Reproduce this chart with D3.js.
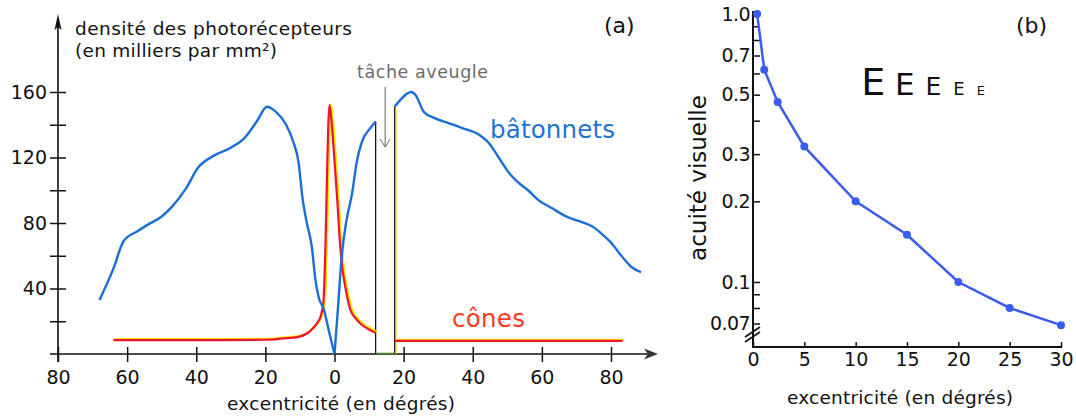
<!DOCTYPE html>
<html>
<head>
<meta charset="utf-8">
<script src="https://cdn.jsdelivr.net/npm/d3@7"></script>
<style>
body { margin: 0; background: #fff; }
svg { display: block; font-family: "DejaVu Sans", sans-serif; }
</style>
</head>
<body>
<div id="chart"></div>
<script>
// (a) photoreceptor density (thousands per mm²) vs eccentricity, negative = left half
const rodsLeft = [[-68,33],[-64,52],[-61,69],[-57,75],[-54,79],[-50,84],[-47,90],[-43,101],[-39.4,114],
    [-35,121],[-30,126],[-26,132],[-22.5,142],[-19.5,151],[-17,148],[-14,140],[-12,130],[-10.4,117],
    [-9.3,96],[-8,80],[-6.6,66],[-5.5,45],[-4.5,34],[-3.2,28],[-1.5,13],[0,0]];
const rodsMid = [[0,0],[1,28],[2.1,60],[3.5,82],[5,97],[6.5,118],[8,130],[10.4,138],[11.9,142]];
const rodsRight = [[17.4,151],[19,155],[21,159],[22.3,160],[23.5,158],[25.8,148],[29,144],[33,141],
    [37,138],[41.7,134],[45,128],[47.5,120],[50,112],[52.5,106],[56,100],[59,94],[63,89],[67,84],
    [71,81],[74.5,78],[77,74],[80,68],[83,60],[86,53],[88.7,50]];
const conesLeft = [[-64,8.5],[-40,8.5],[-20,8.7],[-15,9.5],[-10.4,10.5],[-8,12.5],[-6.6,15],[-5,19],
    [-4,23],[-3.2,32],[-2.7,60],[-2.2,105],[-1.8,140],[-1.45,152],[-1,145],[0,118],[0.8,94],[1.5,70],
    [2.3,52],[3.2,40],[4.6,27],[6,22],[7.8,18],[10,15],[11.9,13]];
const conesRight = [[17.4,8],[40,8],[60,8],[83.3,8]];
const blindSpot = [11.9, 17.4];
const densityTicks = [20, 40, 60, 80, 100, 120, 140, 160];
const densityLabels = [40, 80, 120, 160];
const eccTicksA = [-80, -60, -40, -20, 0, 20, 40, 60, 80];

// (b) visual acuity vs eccentricity
const acuityEcc = [0.4, 1.1, 2.4, 5, 10, 15, 20, 25, 30];
const acuityVal = [1.0, 0.62, 0.47, 0.32, 0.2, 0.15, 0.1, 0.08, 0.069];
const acuityTicks = [1, 0.9, 0.8, 0.7, 0.6, 0.5, 0.4, 0.3, 0.2, 0.1, 0.09, 0.08, 0.07];
const acuityLabels = ["1.0", "", "", "0.7", "", "0.5", "", "0.3", "0.2", "0.1", "", "", "0.07"];
const eccTicksB = [0, 5, 10, 15, 20, 25, 30];

const width = 1076, height = 416;
const ink = "#111";

const svg = d3.select("#chart").append("svg")
    .attr("width", width)
    .attr("height", height);

// ---------- panel (a) ----------
const xA = d3.scaleLinear().domain([-80, 80]).range([58, 611]);
const yA = d3.scaleLinear().domain([0, 160]).range([354, 92]);

const gXA = svg.append("g")
    .attr("transform", `translate(0,${yA(0)})`)
    .call(d3.axisBottom(xA).tickValues(eccTicksA).tickSize(8).tickPadding(9).tickFormat(d => Math.abs(d)));
gXA.select(".domain").remove();
gXA.attr("font-size", 19).attr("font-family", "DejaVu Sans");
gXA.selectAll(".tick line").attr("y1", -7).attr("stroke", ink).attr("stroke-width", 1.5);
gXA.selectAll(".tick text").attr("fill", ink);

const gYA = svg.append("g")
    .attr("transform", `translate(${xA(-80)},0)`)
    .call(d3.axisLeft(yA).tickValues(densityTicks).tickSize(8).tickPadding(3)
        .tickFormat(d => densityLabels.includes(d) ? d : ""));
gYA.select(".domain").remove();
gYA.attr("font-size", 19).attr("font-family", "DejaVu Sans");
gYA.selectAll(".tick line").attr("x1", 8).attr("stroke", ink).attr("stroke-width", 1.5);
gYA.selectAll(".tick text").attr("fill", ink);

// axis lines with arrows
svg.append("line")
    .attr("x1", 50).attr("x2", 650).attr("y1", yA(0)).attr("y2", yA(0))
    .attr("stroke", ink).attr("stroke-width", 1.6);
svg.append("path")
    .attr("d", `M658,${yA(0)} L644,${yA(0) - 5.5} L648,${yA(0)} L644,${yA(0) + 5.5} Z`)
    .attr("fill", "#333");
svg.append("line")
    .attr("x1", xA(-80)).attr("x2", xA(-80)).attr("y1", 362).attr("y2", 22)
    .attr("stroke", ink).attr("stroke-width", 1.6);
svg.append("path")
    .attr("d", `M${xA(-80)},14 L${xA(-80) - 3.5},30 L${xA(-80)},27 L${xA(-80) + 3.5},30 Z`)
    .attr("fill", ink);

// blind spot box
const bx0 = xA(blindSpot[0]), bx1 = xA(blindSpot[1]);
svg.append("rect")
    .attr("x", bx0).attr("y", yA(rodsMid[rodsMid.length - 1][1]))
    .attr("width", bx1 - bx0).attr("height", yA(0) - yA(rodsMid[rodsMid.length - 1][1]))
    .attr("fill", "#fff");
svg.append("line")
    .attr("x1", bx0).attr("x2", bx0).attr("y1", yA(0)).attr("y2", yA(rodsMid[rodsMid.length - 1][1]))
    .attr("stroke", ink).attr("stroke-width", 1.3);
svg.append("line")
    .attr("x1", bx1 + 1.3).attr("x2", bx1 + 1.3).attr("y1", yA(0)).attr("y2", yA(rodsRight[0][1]))
    .attr("stroke", "#f2e21a").attr("stroke-width", 1.2);
svg.append("line")
    .attr("x1", bx1).attr("x2", bx1).attr("y1", yA(0)).attr("y2", yA(rodsRight[0][1]))
    .attr("stroke", "#222").attr("stroke-width", 1.3);
svg.append("line")
    .attr("x1", bx0).attr("x2", bx1).attr("y1", yA(0) - 0.5).attr("y2", yA(0) - 0.5)
    .attr("stroke", "#4c8a2c").attr("stroke-width", 1.6);

const lineA = d3.line()
    .x(d => xA(d[0]))
    .y(d => yA(d[1]))
    .curve(d3.curveMonotoneX);

// cones: yellow halo then red
[conesLeft, conesRight].forEach(seg => {
    svg.append("path")
        .attr("d", lineA(seg))
        .attr("transform", "translate(1.4,-0.9)")
        .attr("fill", "none")
        .attr("stroke", "#ffe600")
        .attr("stroke-width", 2.4);
});
[conesLeft, conesRight].forEach(seg => {
    svg.append("path")
        .attr("d", lineA(seg))
        .attr("fill", "none")
        .attr("stroke", "#ee1430")
        .attr("stroke-width", 2.2);
});

// rods
[rodsLeft, rodsMid, rodsRight].forEach(seg => {
    svg.append("path")
        .attr("d", lineA(seg))
        .attr("fill", "none")
        .attr("stroke", "#1a6fd6")
        .attr("stroke-width", 2.4)
        .attr("stroke-linejoin", "round");
});

// blind spot pointer
const bMid = (bx0 + bx1) / 2;
svg.append("line")
    .attr("x1", bMid).attr("x2", bMid).attr("y1", 87).attr("y2", 147)
    .attr("stroke", "#666").attr("stroke-width", 1);
svg.append("polyline")
    .attr("points", `${bMid - 5},139 ${bMid},147 ${bMid + 5},139`)
    .attr("fill", "none").attr("stroke", "#666").attr("stroke-width", 1);

// texts (a)
const addText = (x, y, str, size, color, len) => {
    const t = svg.append("text")
        .attr("x", x).attr("y", y)
        .attr("font-size", size)
        .attr("fill", color)
        .text(str);
    if (len) t.attr("textLength", len).attr("lengthAdjust", "spacing");
    return t;
};
addText(75, 35, "densité des photorécepteurs", 18.5, ink, 277);
addText(75, 57, "(en milliers par mm²)", 18.5, ink, 202);
addText(604, 33, "(a)", 22, ink);
addText(357, 78, "tâche aveugle", 17.5, "#6b6b6b", 131);
addText(490, 138, "bâtonnets", 24.5, "#1f72d6", 125);
addText(452, 327, "cônes", 24.5, "#ff3a1f", 73);
addText(227, 410, "excentricité (en dégrés)", 18.5, ink, 228);

// ---------- panel (b) ----------
const xB = d3.scaleLinear().domain([0, 30]).range([753, 1061]);
const yB = d3.scaleLog().domain([0.1, 1]).range([282, 14]);
const baseB = 347;

const gXB = svg.append("g")
    .attr("transform", `translate(0,${baseB})`)
    .call(d3.axisBottom(xB).tickValues(eccTicksB).tickSize(-5).tickPadding(6));
gXB.select(".domain").remove();
gXB.attr("font-size", 19).attr("font-family", "DejaVu Sans");
gXB.selectAll(".tick line").attr("stroke", ink).attr("stroke-width", 1.5);
gXB.selectAll(".tick text").attr("fill", ink);

const gYB = svg.append("g")
    .attr("transform", `translate(${xB(0)},0)`)
    .call(d3.axisLeft(yB).tickValues(acuityTicks).tickSize(-7).tickPadding(3)
        .tickFormat((d, i) => acuityLabels[i]));
gYB.select(".domain").remove();
gYB.attr("font-size", 19).attr("font-family", "DejaVu Sans");
gYB.selectAll(".tick line").attr("stroke", ink).attr("stroke-width", 1.5);
gYB.selectAll(".tick text").attr("fill", ink).attr("letter-spacing", -0.6);

svg.append("line")
    .attr("x1", xB(0)).attr("x2", xB(0)).attr("y1", baseB + 1).attr("y2", 11)
    .attr("stroke", ink).attr("stroke-width", 2);
svg.append("line")
    .attr("x1", xB(0) - 1).attr("x2", xB(30) + 1).attr("y1", baseB).attr("y2", baseB)
    .attr("stroke", ink).attr("stroke-width", 2);
// axis break
[0, 5].forEach(off => {
    svg.append("line")
        .attr("x1", 745).attr("y1", 342 - off).attr("x2", 760).attr("y2", 332 - off)
        .attr("stroke", ink).attr("stroke-width", 1.6);
});

const acuity = acuityEcc.map((e, i) => [e, acuityVal[i]]);
svg.append("path")
    .attr("d", d3.line().x(d => xB(d[0])).y(d => yB(d[1]))(acuity))
    .attr("fill", "none")
    .attr("stroke", "#3a5cf0")
    .attr("stroke-width", 2.5);
svg.append("g")
    .selectAll("circle")
    .data(acuity)
    .enter()
    .append("circle")
    .attr("cx", d => xB(d[0]))
    .attr("cy", d => yB(d[1]))
    .attr("r", 4)
    .attr("fill", "#3a5cf0");

// optotypes
const eSizes = [38, 31, 25, 18, 13];
const eLeft = [865, 898, 928, 955, 978];
eSizes.forEach((s, i) => {
    svg.append("text")
        .attr("x", eLeft[i] - 0.1 * s)
        .attr("y", 95)
        .attr("font-size", s)
        .attr("fill", ink)
        .text("E");
});

addText(1016, 33, "(b)", 22, ink);
addText(787, 404, "excentricité (en dégrés)", 18.5, ink, 226);
svg.append("text")
    .attr("transform", "translate(706,178) rotate(-90)")
    .attr("text-anchor", "middle")
    .attr("font-size", 23)
    .attr("fill", ink)
    .text("acuité visuelle");
</script>
</body>
</html>
